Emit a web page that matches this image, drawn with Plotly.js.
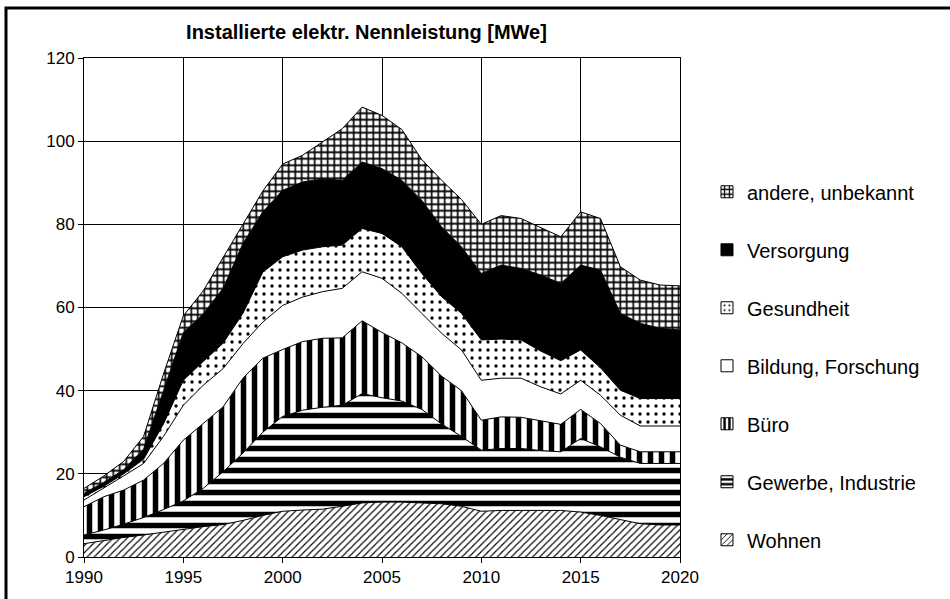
<!DOCTYPE html>
<html>
<head>
<meta charset="utf-8">
<script src="https://cdn.plot.ly/plotly-3.0.1.min.js"></script>
<style>
  html, body { margin: 0; padding: 0; background: #fff; }
  #chart { width: 950px; height: 599px; }
</style>
</head>
<body>
<div id="chart"></div>
<script>
const years = [1990,1991,1992,1993,1994,1995,1996,1997,1998,1999,2000,2001,2002,2003,2004,2005,2006,2007,2008,2009,2010,2011,2012,2013,2014,2015,2016,2017,2018,2019,2020];

const wohnen     = [3.2,4.0,4.7,5.3,6.0,6.7,7.3,7.8,8.8,10.0,11.0,11.3,11.5,12.2,13.0,13.2,13.2,13.0,12.8,12.2,11.0,11.2,11.2,11.3,11.2,10.8,10.0,9.0,8.0,7.7,7.7];
const gewerbe    = [2.1,2.5,3.2,4.2,5.4,6.8,9.2,12.7,16.2,20.0,22.8,24.0,24.5,24.3,26.3,25.1,24.3,22.5,19.2,16.8,14.7,14.9,14.9,14.3,14.1,17.7,16.5,15.0,14.5,14.8,14.8];
const buero      = [6.8,8.0,8.2,9.0,11.1,14.6,15.6,15.6,18.0,17.8,16.1,16.5,16.6,16.2,17.5,15.7,14.0,12.7,11.5,11.0,7.2,7.6,7.5,7.2,6.6,7.0,5.6,2.9,2.8,2.8,2.8];
const bildung    = [1.6,2.0,3.4,4.0,6.5,8.4,9.2,9.2,8.3,8.7,10.6,10.7,11.2,11.9,11.8,13.0,11.9,10.4,10.3,9.8,9.6,9.3,9.4,8.1,7.3,7.0,6.8,7.2,6.2,6.2,6.2];
const gesundheit = [0.8,0.5,0.5,1.0,3.0,6.0,5.7,6.1,7.3,12.0,11.7,11.3,10.8,10.4,10.4,10.8,11.2,9.6,8.8,8.8,9.7,9.4,9.2,8.6,8.0,7.3,6.6,6.0,6.6,6.6,6.6];
const versorgung = [0.8,1.0,1.0,2.5,8.0,11.5,11.5,13.2,16.8,14.5,16.0,16.4,16.3,15.6,16.0,15.6,16.0,17.6,16.8,16.0,16.0,17.8,17.2,18.3,18.6,20.4,23.5,18.5,18.1,16.9,16.5];
const andere     = [1.2,1.5,2.0,3.0,4.0,4.0,5.5,7.4,4.6,5.0,6.3,6.4,8.9,12.4,13.2,12.8,12.2,9.8,11.2,11.4,11.8,11.9,12.0,11.4,11.2,12.8,12.4,11.2,10.4,10.4,10.6];

const names = ["Wohnen","Gewerbe, Industrie","Büro","Bildung, Forschung","Gesundheit","Versorgung","andere, unbekannt"];
const xTicks = [1990,1995,2000,2005,2010,2015,2020];
const yTicks = [0,20,40,60,80,100,120];

const FONT = "Liberation Sans, Arial, Helvetica, sans-serif";

function pat(shape, size, solidity) {
  return {shape: shape, size: size, solidity: solidity, bgcolor: "white", fgcolor: "black", fgopacity: 1};
}

const styles = [
  {pattern: pat("/", 5, 0.22), color: "white"},
  {pattern: pat("-", 11, 0.5), color: "white"},
  {pattern: pat("|", 11, 0.5), color: "white"},
  {pattern: null, color: "white"},
  {pattern: pat(".", 8, 0.13), color: "white"},
  {pattern: null, color: "black"},
  {pattern: pat("+", 6.5, 0.45), color: "white"}
];
const values = [wohnen, gewerbe, buero, bildung, gesundheit, versorgung, andere];

// stacked areas
const areaTraces = values.map((v, i) => {
  const t = {
    type: "scatter",
    mode: "lines",
    x: years,
    y: v,
    name: names[i],
    stackgroup: "one",
    showlegend: false,
    line: {color: "black", width: 1},
    hoverinfo: "x+y+name"
  };
  if (styles[i].pattern) t.fillpattern = styles[i].pattern;
  else t.fillcolor = styles[i].color;
  return t;
});

// legend-only entries (square swatches), placed outside the visible x range
const legendTraces = values.map((v, i) => {
  const m = {color: styles[i].color, line: {color: "black", width: 1}};
  if (styles[i].pattern) m.pattern = Object.assign({}, styles[i].pattern, {size: Math.min(styles[i].pattern.size, 6)});
  return {
    type: "bar",
    x: [1980],
    y: [1],
    name: names[i],
    legendgroup: "g" + i,
    legendrank: 10 - i,
    marker: m,
    hoverinfo: "skip"
  };
});

const layout = {
  width: 950,
  height: 599,
  margin: {l: 84, r: 270, t: 58, b: 42},
  paper_bgcolor: "white",
  plot_bgcolor: "white",
  font: {family: FONT, color: "black", size: 17},
  title: {
    text: "<b>Installierte elektr. Nennleistung [MWe]</b>",
    font: {family: FONT, size: 20, color: "black"},
    x: 0.474, xref: "paper", xanchor: "center",
    y: 0.947, yref: "container", yanchor: "middle"
  },
  xaxis: {
    range: [1990, 2020],
    tickvals: xTicks,
    ticktext: xTicks.map(String),
    ticks: "outside", ticklen: 5, tickcolor: "black",
    showgrid: true, gridcolor: "black", gridwidth: 1,
    showline: true, linecolor: "black", linewidth: 1, mirror: true,
    zeroline: false,
    tickfont: {family: FONT, size: 17, color: "black"}
  },
  yaxis: {
    range: [0, 120],
    tickvals: yTicks,
    ticktext: yTicks.map(String),
    ticks: "outside", ticklen: 5, tickcolor: "black",
    showgrid: true, gridcolor: "black", gridwidth: 1,
    showline: true, linecolor: "black", linewidth: 1, mirror: true,
    zeroline: false,
    tickfont: {family: FONT, size: 17, color: "black"}
  },
  showlegend: true,
  legend: {
    x: 1.0453, xanchor: "left",
    y: 0.771, yanchor: "top",
    traceorder: "grouped",
    tracegroupgap: 29,
    font: {family: FONT, size: 20, color: "black"},
    bgcolor: "rgba(0,0,0,0)"
  },
  shapes: [{
    type: "rect", xref: "paper", yref: "paper",
    x0: (6 - 84) / 596, x1: (990 - 84) / 596,
    y0: (557 - 640) / 499, y1: (557 - 8) / 499,
    line: {color: "black", width: 3},
    fillcolor: "rgba(0,0,0,0)",
    layer: "above"
  }]
};

Plotly.newPlot("chart", areaTraces.concat(legendTraces), layout, {displayModeBar: false, staticPlot: true});
</script>
</body>
</html>
